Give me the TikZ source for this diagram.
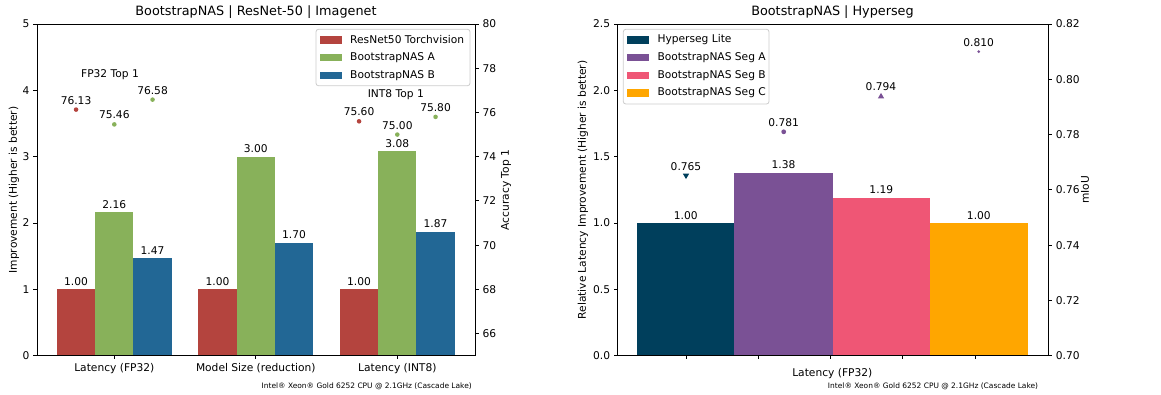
\documentclass[tikz,border=0pt]{standalone}
\usepackage{fontspec}
\setmainfont{DejaVu Sans}
\definecolor{resred}{HTML}{B4443E}
\definecolor{nasgreen}{HTML}{88B15A}
\definecolor{nasblue}{HTML}{226795}
\definecolor{hsdark}{HTML}{003F5C}
\definecolor{hspurple}{HTML}{7A5195}
\definecolor{hspink}{HTML}{EF5675}
\definecolor{hsorange}{HTML}{FFA600}
\newcommand{\ticksize}{\fontsize{10.67}{12.8}\selectfont}
\newcommand{\titlesize}{\fontsize{12.8}{15}\selectfont}
\newcommand{\notesize}{\fontsize{7.47}{9}\selectfont}
\begin{document}
\begin{tikzpicture}[x=1pt,y=-1pt,
  spine/.style={line width=0.85pt,black},
  tickmark/.style={line width=0.85pt,black},
  lab/.style={font=\ticksize,inner sep=0pt},
  ttl/.style={font=\titlesize,inner sep=0pt},
  note/.style={font=\notesize,inner sep=0pt,anchor=east},
  legbox/.style={draw=black!20,line width=0.8pt,fill=white,fill opacity=0.8,rounded corners=2.5pt},
  valab/.style={lab,anchor=south}]
\useasboundingbox (0,0) rectangle (1161,394);

% ================= Left panel: ResNet-50 on Imagenet =================
% bars (improvement axis: 0..5, 66.34 px per unit)
\foreach \c/\r/\g/\b [count=\i] in {114.3/1.00/2.16/1.47, 255.8/1.00/3.00/1.70, 397.3/1.00/3.08/1.87}{
  \fill[resred]   ({\c-57.4},355.7) rectangle ({\c-19.1},{355.7-66.34*\r});
  \fill[nasgreen] ({\c-19.1},355.7) rectangle ({\c+19.1},{355.7-66.34*\g});
  \fill[nasblue]  ({\c+19.1},355.7) rectangle ({\c+57.4},{355.7-66.34*\b});
  \node[valab] (lr\i) at ({\c-38.25},{355.7-66.34*\r-3.6}) {\r};
  \node[valab] (lg\i) at (\c,{355.7-66.34*\g-3.6}) {\g};
  \node[valab] (lb\i) at ({\c+38.25},{355.7-66.34*\b-3.6}) {\b};
}
% accuracy markers (right axis: 65..80, 22.113 px per unit)
\foreach \x/\a/\col/\nm in {76.05/76.13/resred/fa, 114.3/75.46/nasgreen/fb, 152.55/76.58/nasgreen/fc,
                          359.05/75.60/resred/ia, 397.3/75.00/nasgreen/ib, 435.55/75.80/nasgreen/ic}{
  \fill[\col] (\x,{355.7-(\a-65)*22.113}) circle (2.3);
  \node[valab] (m\nm) at (\x,{355.7-(\a-65)*22.113-5.2}) {\a};
}
\node[lab] (fp32top) at (110,75) {FP32 Top 1};
\node[lab] (int8top) at (395.8,95) {INT8 Top 1};

% axes frame
\draw[spine] (37,24) rectangle (475,355.7);
% left ticks
\foreach \v in {0,...,5}{
  \draw[tickmark] (37,{355.7-66.34*\v}) -- (33.3,{355.7-66.34*\v});
  \node[lab,anchor=east] (ly\v) at (29.6,{355.7-66.34*\v}) {\v};
}
% right ticks
\foreach \a in {66,68,...,80}{
  \draw[tickmark] (475,{355.7-(\a-65)*22.113}) -- (478.7,{355.7-(\a-65)*22.113});
  \node[lab,anchor=west] (ry\a) at (482.4,{355.7-(\a-65)*22.113}) {\a};
}
% bottom ticks and category labels
\foreach \c/\t [count=\i] in {114.3/Latency (FP32), 255.8/Model Size (reduction), 397.3/Latency (INT8)}{
  \draw[tickmark] (\c,355.7) -- (\c,359.4);
  \node[lab,anchor=north] (cx\i) at (\c,363.1) {\t};
}
\node[lab,rotate=90] (lylab) at (14,190) {Improvement (Higher is better)};
\node[lab,rotate=90] (lrylab) at (506,190) {Accuracy Top 1};
\node[ttl] (ltitle) at (256,12.3) {BootstrapNAS | ResNet-50 | Imagenet};
\node[note] (lnote) at (472,386) {Intel® Xeon® Gold 6252 CPU @ 2.1GHz (Cascade Lake)};

% legend
\draw[legbox] (316,29.3) rectangle (470,85.7);
\foreach \y/\col/\t [count=\i] in {39.7/resred/ResNet50 Torchvision, 57.5/nasgreen/BootstrapNAS A, 75.3/nasblue/BootstrapNAS B}{
  \fill[\col] (320,{\y-3.8}) rectangle (341.7,{\y+3.8});
  \node[lab,anchor=west] (lleg\i) at (350,\y) {\t};
}

% ================= Right panel: Hyperseg =================
% bars (latency axis: 0..2.5, 132.68 px per unit)
\foreach \xa/\xb/\v/\col [count=\i] in {637.3/734.3/1.00/hsdark, 734.3/832.7/1.38/hspurple,
                                         832.7/930.0/1.19/hspink, 930.0/1027.7/1.00/hsorange}{
  \fill[\col] (\xa,355.7) rectangle (\xb,{355.7-132.68*\v});
  \node[valab] (hv\i) at ({(\xa+\xb)/2},{355.7-132.68*\v-3.6}) {\v};
}
% mIoU markers (right axis: 0.70..0.82, 2764 px per unit)
\coordinate (ma) at (686,{355.7-(0.765-0.70)*2764});
\coordinate (mb) at (783.7,{355.7-(0.781-0.70)*2764});
\coordinate (mc) at (881,{355.7-(0.794-0.70)*2764});
\coordinate (md) at (978.7,{355.7-(0.810-0.70)*2764});
\fill[hsdark] ([shift={(-3.2,-2.4)}]ma) -- ([shift={(3.2,-2.4)}]ma) -- ([shift={(0,3)}]ma) -- cycle;
\fill[hspurple] (mb) circle (2.4);
\fill[hspurple] ([shift={(-3.2,2.6)}]mc) -- ([shift={(3.2,2.6)}]mc) -- ([shift={(0,-3)}]mc) -- cycle;
\fill[hspurple] (md) circle (1.5);
\node[valab] (la) at ([shift={(0,-5.4)}]ma) {0.765};
\node[valab] (lb) at ([shift={(0,-5.2)}]mb) {0.781};
\node[valab] (lc) at ([shift={(0,-5.4)}]mc) {0.794};
\node[valab] (ld) at ([shift={(0,-4.4)}]md) {0.810};

% axes frame
\draw[spine] (617.7,24) rectangle (1048.3,355.7);
\foreach \v in {0.0,0.5,1.0,1.5,2.0,2.5}{
  \draw[tickmark] (617.7,{355.7-132.68*\v}) -- (614,{355.7-132.68*\v});
  \node[lab,anchor=east] at (610.3,{355.7-132.68*\v}) {\v};
}
\foreach \m in {0.70,0.72,0.74,0.76,0.78,0.80,0.82}{
  \draw[tickmark] (1048.3,{355.7-(\m-0.70)*2764}) -- (1052,{355.7-(\m-0.70)*2764});
  \node[lab,anchor=west] at (1055.7,{355.7-(\m-0.70)*2764}) {\m};
}
\foreach \x in {686,758.3,830.7,902.7,975}{
  \draw[tickmark] (\x,355.7) -- (\x,359.4);
}
\node[lab] (hxlab) at (832.3,374) {Latency (FP32)};
\node[lab,rotate=90] (hylab) at (583,190) {Relative Latency Improvement (Higher is better)};
\node[lab,rotate=90] (hrylab) at (1085,190) {mIoU};
\node[ttl] (htitle) at (832.5,12.3) {BootstrapNAS | Hyperseg};
\node[note] (hnote) at (1038.3,386) {Intel® Xeon® Gold 6252 CPU @ 2.1GHz (Cascade Lake)};

% legend
\draw[legbox] (623.3,29.3) rectangle (769,104);
\foreach \y/\col/\t [count=\i] in {39.7/hsdark/Hyperseg Lite, 57.5/hspurple/BootstrapNAS Seg A,
                                   75.3/hspink/BootstrapNAS Seg B, 93.0/hsorange/BootstrapNAS Seg C}{
  \fill[\col] (627.3,{\y-3.8}) rectangle (648.7,{\y+3.8});
  \node[lab,anchor=west] (hleg\i) at (657.3,\y) {\t};
}
\end{tikzpicture}
\end{document}
